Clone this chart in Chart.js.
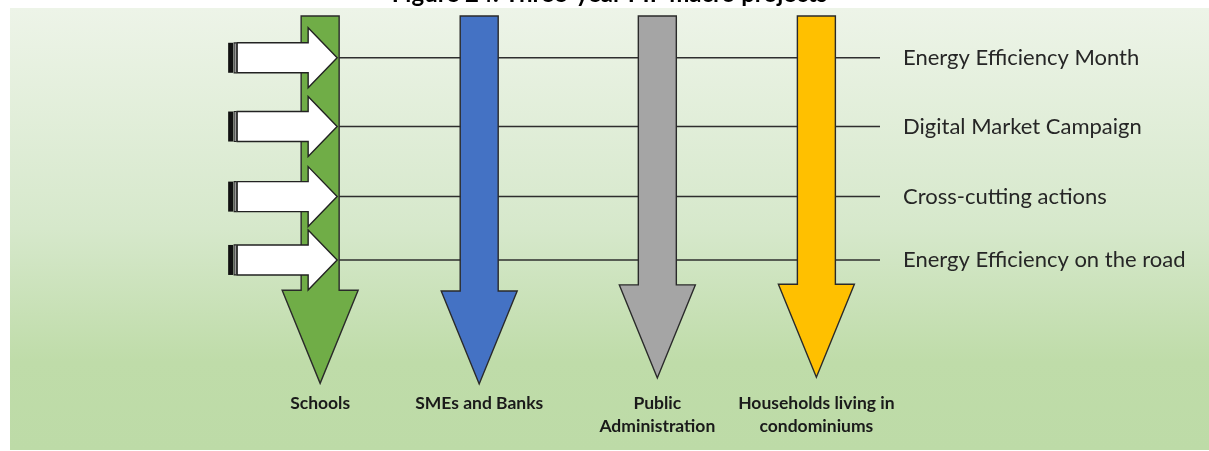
<!DOCTYPE html>
<html>
<head>
<meta charset="utf-8">
<script src="https://cdn.jsdelivr.net/npm/chart.js@4.4.1/dist/chart.umd.min.js"></script>
<style>
  html, body { margin: 0; padding: 0; background: #ffffff; overflow: hidden; width: 1209px; height: 451px; }
  #wrap { position: absolute; left: 0; top: -18px; width: 1209px; height: 469px; }
</style>
</head>
<body>
<div id="wrap"><canvas id="c" width="1209" height="469"></canvas></div>
<script>
// ---- data ----
const titleText = 'Figure 24: Three-year PIF macro projects';
const targets = ['Schools', 'SMEs and Banks', ['Public', 'Administration'], ['Households living in', 'condominiums']];
const targetX = [1.0, 2.0, 3.12, 4.12];              // position of each target arrow on the x axis
const arrowTip = [-0.83, -0.84, -0.75, -0.74];        // where each arrow ends (y units)
const targetColors = ['#70ad47', '#4472c4', '#a5a5a5', '#ffc000'];
const projects = ['Energy Efficiency Month', 'Digital Market Campaign', 'Cross-cutting actions', 'Energy Efficiency on the road'];
const projectY = [4, 2.98, 1.94, 1];                  // level of each project line
const X_MIN = -0.95, X_MAX = 4.52, Y_MIN = -0.9, Y_MAX = 4.62;

const W = 1209, H = 469, SHIFT = 18;

const lineDatasets = projects.map((p, i) => ({
  label: p,
  data: [{ x: targetX[0], y: projectY[i] }, { x: X_MAX, y: projectY[i] }],
  borderColor: '#2e2e2e',
  borderWidth: 1.5,
  pointRadius: 0,
  showLine: true,
  fill: false
}));

const bgPlugin = {
  id: 'bg',
  beforeDraw(chart) {
    const ctx = chart.ctx;
    ctx.save();
    const top = 8 + SHIFT, bottom = 450 + SHIFT;
    const g = ctx.createLinearGradient(0, top, 0, bottom);
    g.addColorStop(0, '#edf4e8');
    g.addColorStop(0.5, '#d6e8cb');
    g.addColorStop(0.8, '#bfdca9');
    g.addColorStop(1, '#bddba7');
    ctx.fillStyle = g;
    ctx.fillRect(10, top, W - 10, bottom - top);
    ctx.restore();
  }
};

const arrowPlugin = {
  id: 'arrows',
  afterDatasetsDraw(chart) {
    const ctx = chart.ctx, xs = chart.scales.x, ys = chart.scales.y;
    const top = chart.chartArea.top;
    const halfShaft = 19, halfHead = 38, headLen = 93;
    ctx.save();
    ctx.lineJoin = 'miter';
    targetX.forEach((tx, i) => {
      const cx = xs.getPixelForValue(tx);
      const tip = ys.getPixelForValue(arrowTip[i]);
      const hs = tip - headLen;
      ctx.beginPath();
      ctx.moveTo(cx - halfShaft, top);
      ctx.lineTo(cx + halfShaft, top);
      ctx.lineTo(cx + halfShaft, hs);
      ctx.lineTo(cx + halfHead, hs);
      ctx.lineTo(cx, tip);
      ctx.lineTo(cx - halfHead, hs);
      ctx.lineTo(cx - halfShaft, hs);
      ctx.closePath();
      ctx.fillStyle = targetColors[i];
      ctx.fill();
      ctx.strokeStyle = '#2a2a2a';
      ctx.lineWidth = 1.4;
      ctx.stroke();
    });
    // white striped arrows feeding the first target
    const gx = xs.getPixelForValue(targetX[0]);
    projectY.forEach((py) => {
      const cy = ys.getPixelForValue(py);
      const bodyH = 15, headH = 30;
      const x0 = gx - 92, bodyX = gx - 83, headX = gx - 12, tipX = gx + 17;
      ctx.fillStyle = '#111111';
      ctx.fillRect(x0, cy - bodyH, 5, bodyH * 2);
      ctx.fillStyle = '#ffffff';
      ctx.strokeStyle = '#222222';
      ctx.lineWidth = 1.2;
      ctx.beginPath();
      ctx.rect(x0 + 6, cy - bodyH, 2, bodyH * 2);
      ctx.fill();
      ctx.stroke();
      ctx.beginPath();
      ctx.moveTo(bodyX, cy - bodyH);
      ctx.lineTo(headX, cy - bodyH);
      ctx.lineTo(headX, cy - headH);
      ctx.lineTo(tipX, cy);
      ctx.lineTo(headX, cy + headH);
      ctx.lineTo(headX, cy + bodyH);
      ctx.lineTo(bodyX, cy + bodyH);
      ctx.closePath();
      ctx.fillStyle = '#ffffff';
      ctx.fill();
      ctx.lineWidth = 1.4;
      ctx.strokeStyle = '#222222';
      ctx.stroke();
    });
    ctx.restore();
  }
};

new Chart(document.getElementById('c'), {
  type: 'scatter',
  data: { datasets: lineDatasets },
  plugins: [bgPlugin, arrowPlugin],
  options: {
    responsive: false,
    animation: false,
    devicePixelRatio: 1,
    layout: { padding: { left: 10, right: 0, top: 0, bottom: 0 } },
    plugins: {
      legend: { display: false },
      tooltip: { enabled: false },
      title: {
        display: true,
        text: titleText,
        color: '#000000',
        font: { family: 'Lato', size: 24, weight: 'bold', lineHeight: 1 },
        padding: { top: 0, bottom: 10 }
      }
    },
    scales: {
      x: {
        type: 'linear',
        position: 'bottom',
        min: X_MIN, max: X_MAX,
        grid: { display: false, drawTicks: false },
        border: { display: false },
        afterFit(s) { s.height = 63; s.paddingLeft = 0; s.paddingRight = 0; },
        afterBuildTicks(s) { s.ticks = targetX.map(v => ({ value: v })); },
        ticks: {
          autoSkip: false, maxRotation: 0, minRotation: 0,
          padding: 4,
          color: '#1a1a1a',
          font: { family: 'Lato', size: 17.5, weight: 'bold', lineHeight: '23px' },
          callback: (v) => { const k = targetX.indexOf(v); return k >= 0 ? targets[k] : ''; }
        }
      },
      y: {
        type: 'linear',
        position: 'right',
        min: Y_MIN, max: Y_MAX,
        grid: { display: false, drawTicks: false },
        border: { display: false },
        afterFit(s) { s.width = 329; s.paddingTop = 0; s.paddingBottom = 0; },
        afterBuildTicks(s) { s.ticks = projectY.map(v => ({ value: v })); },
        ticks: {
          autoSkip: false,
          padding: 23,
          color: '#262626',
          font: { family: 'Lato', size: 22 },
          callback: (v) => { const k = projectY.indexOf(v); return k >= 0 ? projects[k] : ''; }
        }
      }
    }
  }
});
</script>
</body>
</html>
